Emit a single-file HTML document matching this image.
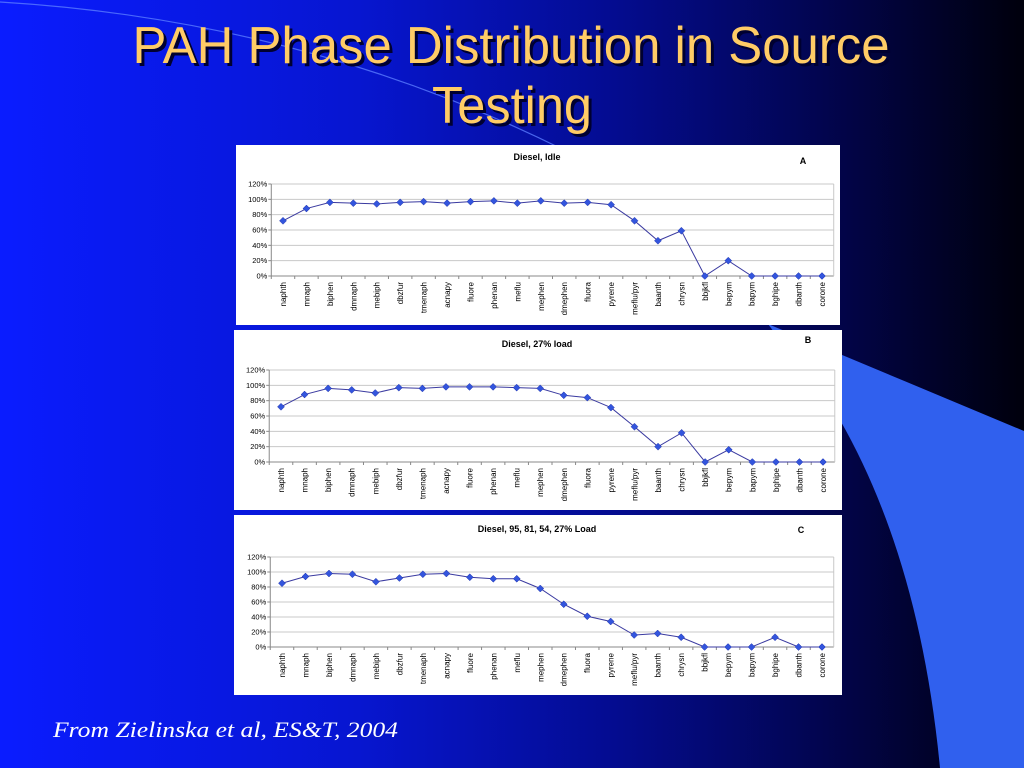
<!DOCTYPE html>
<html><head><meta charset="utf-8"><style>
html,body{margin:0;padding:0;width:1024px;height:768px;overflow:hidden}
body{background:#0716d0;font-family:"Liberation Sans",Arial,sans-serif}
</style></head><body>
<svg width="1024" height="768" viewBox="0 0 1024 768" style="position:absolute;left:0;top:0">
<defs><linearGradient id="bg" x1="0" x2="1" y1="0" y2="0">
<stop offset="0" stop-color="#0a1cff"/><stop offset="0.35" stop-color="#0716d0"/><stop offset="0.6" stop-color="#040c90"/><stop offset="0.8" stop-color="#020550"/><stop offset="1" stop-color="#00000c"/></linearGradient></defs>
<rect x="0" y="0" width="1024" height="768" fill="url(#bg)"/>
<path d="M0,2 Q300,20 560,148" fill="none" stroke="#5a7cff" stroke-width="1.2" opacity="0.8"/>
<path d="M768,324 L1024,431 L1024,768 L940,768 Q920,560 840,420 Z" fill="#3060ee"/>
<g font-family="Liberation Sans, Arial, sans-serif" font-size="52" fill="#ffcc66" text-anchor="middle">
<text x="514" y="66" fill="#000030" textLength="757" lengthAdjust="spacingAndGlyphs">PAH Phase Distribution in Source</text>
<text x="511" y="63" textLength="757" lengthAdjust="spacingAndGlyphs">PAH Phase Distribution in Source</text>
<text x="515" y="126" fill="#000030" textLength="160" lengthAdjust="spacingAndGlyphs">Testing</text>
<text x="512" y="123" textLength="160" lengthAdjust="spacingAndGlyphs">Testing</text>
</g>
<text x="53" y="737" font-family="Liberation Serif, serif" font-style="italic" font-size="22" fill="#ffffff" textLength="345" lengthAdjust="spacingAndGlyphs">From Zielinska et al, ES&amp;T, 2004</text>
<g id="charts"></g>
</svg>
<script>
const categories=["naphth","mnaph","biphen","dmnaph","mebiph","dbzfur","tmenaph","acnapy","fluore","phenan","meflu","mephen","dmephen","fluora","pyrene","meflu/pyr","baanth","chrysn","bbjkfl","bepym","bapym","bghipe","dbanth","corone"];
const seriesA=[72,88,96,95,94,96,97,95,97,98,95,98,95,96,93,72,46,59,0,20,0,0,0,0];
const seriesB=[72,88,96,94,90,97,96,98,98,98,97,96,87,84,71,46,20,38,0,16,0,0,0,0];
const seriesC=[85,94,98,97,87,92,97,98,93,91,91,78,57,41,34,16,18,13,0,0,0,13,0,0];
const yTicks=[0,20,40,60,80,100,120];
const titles=["Diesel, Idle","Diesel, 27% load","Diesel, 95, 81, 54, 27% Load"];
const letters=["A","B","C"];
const NS="http://www.w3.org/2000/svg";
const root=document.getElementById('charts');
function mk(tag,attrs,parent){const e=document.createElementNS(NS,tag);for(const k in attrs)e.setAttribute(k,attrs[k]);parent.appendChild(e);return e;}
const panels=[
 {px:236,py:145,pw:604,ph:180,x0:283,x1:822,y0:276,y120:184,tx:537,ty:160,lx:803,ly:164,data:seriesA},
 {px:234,py:330,pw:608,ph:180,x0:281,x1:823,y0:462,y120:370,tx:537,ty:347,lx:808,ly:343,data:seriesB},
 {px:234,py:515,pw:608,ph:180,x0:282,x1:822,y0:647,y120:557,tx:537,ty:532,lx:801,ly:533,data:seriesC}
];
panels.forEach((p,pi)=>{
 const g=mk('g',{},root);
 
 
 const step=(p.x1-p.x0)/(categories.length-1);
 const xs=i=>p.x0+i*step;
 const ys=v=>p.y0-(v/120)*(p.y0-p.y120);
 const left=p.x0-step/2,right=p.x1+step/2;
 const bg=mk('rect',{x:p.px,y:p.py,width:p.pw,height:p.ph,fill:'#fff'},g);
 
 
 const t=mk('text',{x:p.tx,y:p.ty,'font-size':9,'font-weight':'bold','text-anchor':'middle',fill:'#000'},g);
 t.textContent=titles[pi];
 
 
 const l=mk('text',{x:p.lx,y:p.ly,'font-size':9,'font-weight':'bold','text-anchor':'middle',fill:'#000'},g);
 l.textContent=letters[pi];
 
 
 yTicks.forEach(v=>{
  const y=ys(v);
  const gl=mk('line',{x1:left,x2:right,y1:y,y2:y,stroke:v===0?'#888':'#c8c8c8','stroke-width':1},g);
  
  
  mk('line',{x1:left-3,x2:left,y1:y,y2:y,stroke:'#888'},g);
  const tl=mk('text',{x:left-4,y:y+2.5,'font-size':7.5,'text-anchor':'end',fill:'#000'},g);
  tl.textContent=v+'%';
  
  
 });
 mk('line',{x1:left,x2:left,y1:p.y120,y2:p.y0,stroke:'#888'},g);
 mk('line',{x1:right,x2:right,y1:p.y120,y2:p.y0,stroke:'#c8c8c8'},g);
 categories.forEach((c,i)=>{
  mk('line',{x1:left+i*step,x2:left+i*step,y1:p.y0,y2:p.y0+3,stroke:'#888'},g);
  const cl=mk('text',{x:xs(i)+3,y:p.y0+6,'font-size':8,'text-anchor':'end',fill:'#000',transform:'rotate(-90 '+(xs(i)+3)+' '+(p.y0+6)+')'},g);
  cl.textContent=c;
  
  
 });
 const pts=p.data.map((v,i)=>xs(i)+','+ys(v)).join(' ');
 const line=mk('polyline',{points:pts,fill:'none',stroke:'#3a3aa0','stroke-width':1},g);
 
 
 p.data.forEach((v,i)=>{
  const x=xs(i),y=ys(v);
  const m=mk('polygon',{points:`${x},${y-3.5} ${x+3.5},${y} ${x},${y+3.5} ${x-3.5},${y}`,fill:'#3355dd',stroke:'#2233aa','stroke-width':0.5},g);
  
  
 });
});
</script>
</body></html>
